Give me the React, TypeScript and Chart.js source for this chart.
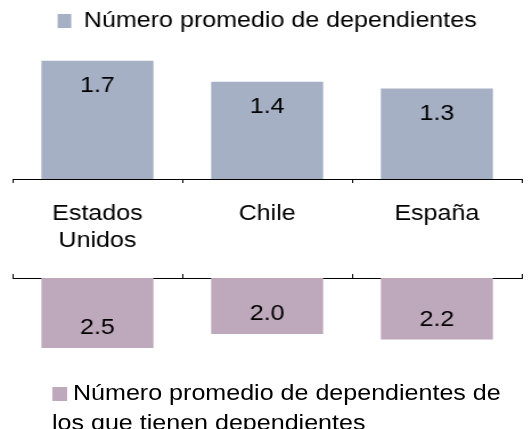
import React, { useEffect, useRef } from "react";
import { Chart, registerables } from "chart.js";

Chart.register(...registerables);

const categories: (string | string[])[] = [["Estados", "Unidos"], "Chile", "España"];
const avgDependents = [1.7, 1.4, 1.3];
const avgDependentsAmongWith = [2.5, 2.0, 2.2];
const seriesTopLabel = "Número promedio de dependientes";
const seriesBottomLabel = "Número promedio de dependientes de los que tienen dependientes";

const TOP_COLOR = "#A5B0C4";
const BOTTOM_COLOR = "#BEA8BB";
const FONT_FAMILY = "'Liberation Sans', Arial, sans-serif";
const FONT_SIZE = 22;

// The reference is drawn horizontally widened; render at a narrower width and stretch.
const INNER_W = 467;
const STRETCH = 532 / INNER_W;

const valueLabels = {
  id: "valueLabels",
  afterDatasetsDraw(chart: any, _args: any, opts: any) {
    const ctx = chart.ctx;
    ctx.save();
    ctx.font = `${FONT_SIZE}px ${FONT_FAMILY}`;
    ctx.fillStyle = "#000";
    ctx.textAlign = "center";
    ctx.textBaseline = "middle";
    chart.data.datasets.forEach((ds: any, di: number) => {
      const meta = chart.getDatasetMeta(di);
      meta.data.forEach((bar: any, i: number) => {
        const v = ds.data[i];
        ctx.fillText(Number(v).toFixed(1), bar.x, bar.y + (opts.offset || 0));
      });
    });
    ctx.restore();
  },
};

export default function App() {
  const topRef = useRef<HTMLCanvasElement>(null);
  const botRef = useRef<HTMLCanvasElement>(null);

  useEffect(() => {
    const font = { family: FONT_FAMILY, size: FONT_SIZE };
    const top = new Chart(topRef.current!, {
      type: "bar",
      data: {
        labels: categories as any,
        datasets: [
          {
            label: seriesTopLabel,
            data: avgDependents,
            backgroundColor: TOP_COLOR,
            categoryPercentage: 1,
            barPercentage: 0.66,
          },
        ],
      },
      options: {
        responsive: false,
        animation: false,
        devicePixelRatio: 1,
        layout: { padding: { left: 11, right: 9, top: 0, bottom: 0 } },
        plugins: {
          legend: {
            position: "top",
            labels: {
              font,
              color: "#000",
              boxWidth: 12,
              boxHeight: 14,
              padding: 10,
            },
          },
          tooltip: { enabled: false },
          valueLabels: { offset: 25 },
        } as any,
        scales: {
          x: {
            grid: {
              offset: true,
              drawOnChartArea: false,
              tickLength: 4,
              color: "#000",
            },
            border: { color: "#000", width: 1 },
            ticks: { font: { ...font, lineHeight: 1.227 }, color: "#000", padding: 17, maxRotation: 0 },
          },
          y: { display: false, min: 0, max: 1.97 },
        },
      },
      plugins: [valueLabels],
    });

    const bot = new Chart(botRef.current!, {
      type: "bar",
      data: {
        labels: categories as any,
        datasets: [
          {
            label: seriesBottomLabel,
            data: avgDependentsAmongWith,
            backgroundColor: BOTTOM_COLOR,
            categoryPercentage: 1,
            barPercentage: 0.66,
          },
        ],
      },
      options: {
        responsive: false,
        animation: false,
        devicePixelRatio: 1,
        layout: { padding: { left: 11, right: 9, top: 0, bottom: 0 } },
        plugins: {
          legend: { display: false },
          tooltip: { enabled: false },
          valueLabels: { offset: -20 },
        } as any,
        scales: {
          x: {
            position: "top",
            grid: {
              offset: true,
              drawOnChartArea: false,
              tickLength: 4,
              color: "#000",
            },
            border: { color: "#000", width: 1 },
            ticks: { display: false },
          },
          y: { display: false, reverse: true, min: 0, max: 3.43 },
        },
      },
      plugins: [valueLabels],
    });

    return () => {
      top.destroy();
      bot.destroy();
    };
  }, []);

  return (
    <div
      style={{
        position: "fixed",
        left: 0,
        top: 0,
        width: 532,
        height: 429,
        background: "#fff",
        overflow: "hidden",
      }}
    >
      <div
        style={{
          position: "absolute",
          left: 0,
          top: 0,
          width: INNER_W,
          height: 429,
          transform: `scaleX(${STRETCH})`,
          transformOrigin: "0 0",
        }}
      >
        <canvas ref={topRef} width={INNER_W} height={271} style={{ position: "absolute", left: 0, top: 0 }} />
        <canvas ref={botRef} width={INNER_W} height={100} style={{ position: "absolute", left: 0, top: 274 }} />
        <div
          style={{
            position: "absolute",
            left: 45.6,
            top: 378,
            width: 405,
            fontFamily: FONT_FAMILY,
            fontSize: FONT_SIZE,
            lineHeight: "30px",
            color: "#000",
          }}
        >
          <span
            style={{
              display: "inline-block",
              width: 13.2,
              height: 14,
              background: BOTTOM_COLOR,
              marginRight: 5.3,
              verticalAlign: "-1px",
            }}
          />
          {seriesBottomLabel}
        </div>
      </div>
    </div>
  );
}
